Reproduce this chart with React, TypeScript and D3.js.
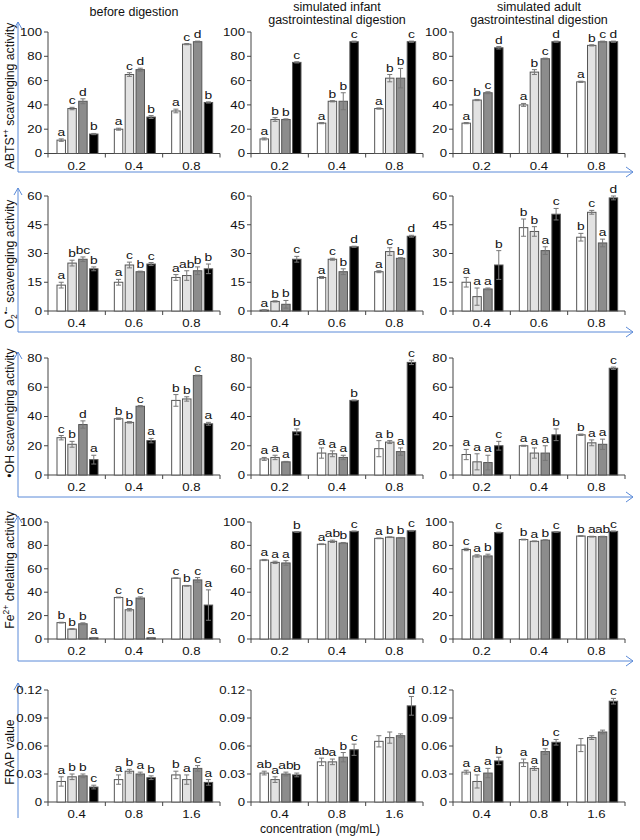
import React from "react";
import * as d3 from "d3";

// ---------- categories / ticks ----------
const catsA = ["0.2", "0.4", "0.8"];
const catsO2 = ["0.4", "0.6", "0.8"];
const catsFrap = ["0.4", "0.8", "1.6"];
const ticks100 = [0, 20, 40, 60, 80, 100];
const ticks60 = [0, 15, 30, 45, 60];
const ticks80 = [0, 20, 40, 60, 80];
const ticksFrap = [0, 0.03, 0.06, 0.09, 0.12];

const colTitles = [["before digestion"], ["simulated infant", "gastrointestinal digestion"], ["simulated adult", "gastrointestinal digestion"]];

// ---------- ABTS ----------
const abtsBefore = [[11, 37, 43, 16], [20, 65, 69, 30], [35, 90, 92, 42]];
const abtsBeforeErr = [[1, 1, 2, 0.5], [0.8, 1.5, 1.2, 1.2], [1.5, 0.5, 0.5, 0.5]];
const abtsBeforeLbl = [["a", "c", "d", "b"], ["a", "c", "d", "b"], ["a", "c", "d", "b"]];
const abtsInfant = [[12, 28, 28, 75], [25, 43, 43, 92], [37, 62, 62, 92]];
const abtsInfantErr = [[0.8, 1.5, 0.5, 0.5], [0.5, 0.5, 7, 0.5], [0.5, 3, 8, 0.5]];
const abtsInfantLbl = [["a", "b", "b", "c"], ["a", "b", "b", "c"], ["a", "b", "b", "c"]];
const abtsAdult = [[25, 44, 50, 87], [40, 67, 78, 92], [59, 89, 92, 92]];
const abtsAdultErr = [[0.5, 0.5, 0.8, 1], [1.2, 2, 0.5, 0.5], [0.5, 0.5, 0.5, 0.5]];
const abtsAdultLbl = [["a", "b", "c", "d"], ["a", "b", "c", "d"], ["a", "b", "c", "d"]];

// ---------- O2 ----------
const o2Before = [[13.5, 25, 27, 22], [15, 24, 20.5, 24.5], [17.5, 18.5, 21, 22]];
const o2BeforeErr = [[1.5, 1.5, 1.2, 1], [1.5, 1.5, 0.3, 0.8], [1.5, 2.5, 2, 2.5]];
const o2BeforeLbl = [["a", "b", "bc", "b"], ["a", "c", "b", "c"], ["a", "ab", "b", "b"]];
const o2Infant = [[0.5, 5, 3.5, 27], [17.5, 27, 20.5, 33.5], [20.5, 31, 27.5, 39]];
const o2InfantErr = [[0.2, 0.3, 2, 1.5], [0.5, 0.5, 1.5, 0.3], [0.5, 2, 0.3, 0.5]];
const o2InfantLbl = [["a", "b", "b", "c"], ["a", "c", "b", "d"], ["a", "c", "b", "d"]];
const o2Adult = [[15, 7.5, 11.5, 24], [43.5, 41.5, 31.5, 50.5], [38.5, 51.5, 35.5, 59]];
const o2AdultErr = [[2.5, 4.5, 0.5, 7.5], [4.5, 2.5, 2, 3], [2, 1, 2, 1]];
const o2AdultLbl = [["a", "a", "a", "b"], ["b", "b", "a", "c"], ["b", "c", "a", "d"]];

// ---------- OH ----------
const ohBefore = [[25.5, 21, 34.5, 10.5], [38.5, 36, 47, 23.5], [51, 52, 68, 35]];
const ohBeforeErr = [[1.5, 2, 2.5, 3], [0.5, 0.5, 0.5, 1.5], [4, 1.5, 0.3, 1]];
const ohBeforeLbl = [["c", "b", "d", "a"], ["b", "b", "c", "a"], ["b", "b", "c", "a"]];
const ohInfant = [[11, 12, 9, 29.5], [15, 14.5, 12, 51], [18, 22.5, 16, 77]];
const ohInfantErr = [[1, 1.5, 0.3, 2], [3.5, 2, 1.5, 0.3], [5.5, 1, 2.5, 1.5]];
const ohInfantLbl = [["a", "a", "a", "b"], ["a", "a", "a", "b"], ["a", "b", "a", "c"]];
const ohAdult = [[14, 9, 8.5, 20], [20, 15, 15, 27.5], [27.5, 22, 21, 73]];
const ohAdultErr = [[3.5, 5.5, 5, 3], [0.3, 3.5, 5, 4], [0.5, 2, 3.5, 0.8]];
const ohAdultLbl = [["a", "a", "a", "c"], ["a", "a", "a", "b"], ["b", "a", "a", "c"]];

// ---------- Fe ----------
const feBefore = [[14, 8.5, 13, 1], [35.5, 25, 35, 1], [52, 45.5, 50.5, 29]];
const feBeforeErr = [[0.3, 0.3, 0.8, 0.3], [0.3, 1, 1, 0.3], [0.3, 0.3, 2, 13]];
const feBeforeLbl = [["b", "b", "b", "a"], ["c", "b", "c", "a"], ["c", "b", "c", "a"]];
const feInfant = [[67.5, 65.5, 65, 91.5], [81, 83.5, 82, 92], [86, 87, 86.5, 92.5]];
const feInfantErr = [[0.5, 1, 2, 0.3], [0.3, 1, 0.5, 0.3], [0.3, 0.3, 0.3, 0.3]];
const feInfantLbl = [["a", "a", "a", "b"], ["a", "ab", "b", "c"], ["a", "b", "b", "c"]];
const feAdult = [[76.5, 71, 71, 91], [85, 83.5, 84.5, 91.5], [88, 87.5, 87.5, 92]];
const feAdultErr = [[1, 1, 1.5, 0.3], [0.3, 0.3, 0.3, 0.3], [0.3, 0.3, 0.3, 0.3]];
const feAdultLbl = [["c", "a", "b", "c"], ["b", "a", "b", "c"], ["b", "a", "ab", "c"]];

// ---------- FRAP ----------
const frapBefore = [[0.022, 0.027, 0.028, 0.016], [0.024, 0.033, 0.03, 0.026], [0.029, 0.024, 0.036, 0.021]];
const frapBeforeErr = [[0.005, 0.003, 0.002, 0.002], [0.005, 0.002, 0.002, 0.002], [0.004, 0.005, 0.003, 0.003]];
const frapBeforeLbl = [["a", "b", "b", "c"], ["a", "b", "a", "b"], ["b", "a", "c", "a"]];
const frapInfant = [[0.031, 0.024, 0.03, 0.029], [0.043, 0.043, 0.048, 0.056], [0.065, 0.069, 0.071, 0.103]];
const frapInfantErr = [[0.002, 0.003, 0.002, 0.002], [0.004, 0.003, 0.005, 0.006], [0.006, 0.006, 0.002, 0.01]];
const frapInfantLbl = [["ab", "a", "ab", "b"], ["ab", "a", "b", "c"], ["", "", "", "d"]];
const frapAdult = [[0.032, 0.022, 0.031, 0.044], [0.042, 0.036, 0.054, 0.064], [0.061, 0.069, 0.075, 0.108]];
const frapAdultErr = [[0.002, 0.007, 0.005, 0.004], [0.004, 0.002, 0.003, 0.003], [0.007, 0.002, 0.002, 0.003]];
const frapAdultLbl = [["a", "a", "a", "b"], ["a", "a", "b", "c"], ["", "", "", "c"]];

// ---------- layout ----------
const FONT = "Liberation Sans, Arial, sans-serif";
const BLUE = "#5a8ad8";
const FILLS = ["#ffffff", "#e2e2e2", "#8c8c8c", "#000000"];
const COLX = [48, 251, 453];
const COLW = 172;
const SX = 1.2; // horizontal stretch of small labels, as in the reference

type Panel = { v: number[][]; e: number[][]; l: string[][] };
type Row = {
  cats: string[];
  ticks: number[];
  fmt: (n: number) => string;
  top: number;
  bottom: number;
  arrow: number;
  blue: number | null;
  blueEnd: number;
  ylabY: number;
  ylab: React.ReactNode;
  panels: Panel[];
};

const intFmt = (n: number) => String(n);
const frapFmt = (n: number) => (n === 0 ? "0" : n.toFixed(2));

const rows: Row[] = [
  {
    cats: catsA, ticks: ticks100, fmt: intFmt, top: 32, bottom: 153.5, arrow: 22, blue: 172, blueEnd: 172, ylabY: 96,
    ylab: (<>ABTS<tspan fontSize="8.5" dy="-5">•+</tspan><tspan dy="5"> scavenging activity</tspan></>),
    panels: [
      { v: abtsBefore, e: abtsBeforeErr, l: abtsBeforeLbl },
      { v: abtsInfant, e: abtsInfantErr, l: abtsInfantLbl },
      { v: abtsAdult, e: abtsAdultErr, l: abtsAdultLbl },
    ],
  },
  {
    cats: catsO2, ticks: ticks60, fmt: intFmt, top: 196, bottom: 311, arrow: 188, blue: 332, blueEnd: 332, ylabY: 264,
    ylab: (<>O<tspan fontSize="8.5" dy="3">2</tspan><tspan fontSize="8.5" dy="-8">•−</tspan><tspan dy="5"> scavenging activity</tspan></>),
    panels: [
      { v: o2Before, e: o2BeforeErr, l: o2BeforeLbl },
      { v: o2Infant, e: o2InfantErr, l: o2InfantLbl },
      { v: o2Adult, e: o2AdultErr, l: o2AdultLbl },
    ],
  },
  {
    cats: catsA, ticks: ticks80, fmt: intFmt, top: 358, bottom: 475, arrow: 352, blue: 497, blueEnd: 497, ylabY: 413,
    ylab: (<>•OH scavenging activity</>),
    panels: [
      { v: ohBefore, e: ohBeforeErr, l: ohBeforeLbl },
      { v: ohInfant, e: ohInfantErr, l: ohInfantLbl },
      { v: ohAdult, e: ohAdultErr, l: ohAdultLbl },
    ],
  },
  {
    cats: catsA, ticks: ticks100, fmt: intFmt, top: 522, bottom: 639, arrow: 516, blue: 661, blueEnd: 661, ylabY: 570,
    ylab: (<>Fe<tspan fontSize="8.5" dy="-5">2+</tspan><tspan dy="5"> chelating activity</tspan></>),
    panels: [
      { v: feBefore, e: feBeforeErr, l: feBeforeLbl },
      { v: feInfant, e: feInfantErr, l: feInfantLbl },
      { v: feAdult, e: feAdultErr, l: feAdultLbl },
    ],
  },
  {
    cats: catsFrap, ticks: ticksFrap, fmt: frapFmt, top: 690, bottom: 802, arrow: 683, blue: null, blueEnd: 818, ylabY: 752,
    ylab: (<>FRAP value</>),
    panels: [
      { v: frapBefore, e: frapBeforeErr, l: frapBeforeLbl },
      { v: frapInfant, e: frapInfantErr, l: frapInfantLbl },
      { v: frapAdult, e: frapAdultErr, l: frapAdultLbl },
    ],
  },
];

function SText({ x, y, anchor, children, size = 11, dy }: { x: number; y: number; anchor: string; children: React.ReactNode; size?: number; dy?: string }) {
  return (
    <text transform={`translate(${x},${y}) scale(${SX},1)`} dy={dy} textAnchor={anchor} fontSize={size} fill="#111">
      {children}
    </text>
  );
}

function PanelView({ row, panel, x0 }: { row: Row; panel: Panel; x0: number }) {
  const yMax = row.ticks[row.ticks.length - 1];
  const y = d3.scaleLinear().domain([0, yMax]).range([row.bottom, row.top]);
  const xg = d3.scaleBand<string>().domain(row.cats).range([x0, x0 + COLW]).padding(0);
  const xs = d3.scaleBand<number>().domain([0, 1, 2, 3]).range([9, 50]).paddingInner(0.22).paddingOuter(0);
  const bw = xs.bandwidth();
  const boundaries = row.cats.map((c) => (xg(c) as number) + xg.bandwidth());
  return (
    <g>
      {/* y axis */}
      <line x1={x0} x2={x0} y1={row.top} y2={row.bottom + 4} stroke="#444" strokeWidth={1} />
      {row.ticks.map((t) => (
        <g key={t}>
          <line x1={x0 - 4} x2={x0} y1={y(t)} y2={y(t)} stroke="#444" />
          <SText x={x0 - 6} y={y(t)} dy="0.36em" anchor="end">
            {row.fmt(t)}
          </SText>
        </g>
      ))}
      {/* x axis */}
      <line x1={x0} x2={x0 + COLW} y1={row.bottom} y2={row.bottom} stroke="#444" />
      {boundaries.map((bx, i) => (
        <line key={i} x1={bx} x2={bx} y1={row.bottom} y2={row.bottom + 4} stroke="#444" />
      ))}
      {row.cats.map((c) => (
        <SText key={c} x={(xg(c) as number) + xg.bandwidth() / 2} y={row.bottom + 16} anchor="middle">
          {c}
        </SText>
      ))}
      {/* bars */}
      {row.cats.map((c, gi) => (
        <g key={c}>
          {panel.v[gi].map((val, si) => {
            const bx = (xg(c) as number) + (xs(si) as number);
            const err = panel.e[gi][si];
            const cx = bx + bw / 2;
            const yTop = y(val + err);
            const yLow = y(Math.max(0, val - err));
            return (
              <g key={si}>
                <rect x={bx} y={y(val)} width={bw} height={row.bottom - y(val)} fill={FILLS[si]} stroke="#555" strokeWidth={1} />
                <line x1={cx} x2={cx} y1={yLow} y2={yTop} stroke="#777" strokeWidth={1} />
                <line x1={cx - 2.5} x2={cx + 2.5} y1={yTop} y2={yTop} stroke="#777" strokeWidth={1} />
                <line x1={cx - 2.5} x2={cx + 2.5} y1={yLow} y2={yLow} stroke="#777" strokeWidth={1} />
                {panel.l[gi][si] ? (
                  <SText x={cx} y={yTop - 3} anchor="middle" size={11.5}>
                    {panel.l[gi][si]}
                  </SText>
                ) : null}
              </g>
            );
          })}
        </g>
      ))}
    </g>
  );
}

export default function App() {
  return (
    <svg width={640} height={840} style={{ position: "absolute", left: 0, top: 0, background: "#fff" }} fontFamily={FONT}>
      <rect x={0} y={0} width={640} height={840} fill="#fff" />
      {/* column titles */}
      {colTitles.map((lines, ci) => (
        <text key={ci} x={COLX[ci] + COLW / 2} y={lines.length === 1 ? 16 : 11} textAnchor="middle" fontSize={12.5} fill="#111">
          {lines.map((ln, li) => (
            <tspan key={li} x={COLX[ci] + COLW / 2} dy={li === 0 ? 0 : 13}>
              {ln}
            </tspan>
          ))}
        </text>
      ))}
      {rows.map((row, ri) => (
        <g key={ri}>
          {/* blue vertical arrow */}
          <line x1={18} x2={18} y1={row.arrow} y2={row.blueEnd} stroke={BLUE} strokeWidth={1} />
          <polyline points={`14,${row.arrow + 7} 18,${row.arrow} 22,${row.arrow + 7}`} fill="none" stroke={BLUE} strokeWidth={1} />
          {row.blue !== null ? (
            <g>
              <line x1={18} x2={633} y1={row.blue} y2={row.blue} stroke={BLUE} strokeWidth={1} />
              <polyline points={`626,${row.blue - 5} 633,${row.blue} 626,${row.blue + 5}`} fill="none" stroke={BLUE} strokeWidth={1} />
            </g>
          ) : null}
          <text transform={`translate(14,${row.ylabY}) rotate(-90)`} textAnchor="middle" fontSize={12.3} fill="#111">
            {row.ylab}
          </text>
          {row.panels.map((p, ci) => (
            <PanelView key={ci} row={row} panel={p} x0={COLX[ci]} />
          ))}
        </g>
      ))}
      <text x={320} y={833} textAnchor="middle" fontSize={12} fill="#111">
        concentration (mg/mL)
      </text>
    </svg>
  );
}
